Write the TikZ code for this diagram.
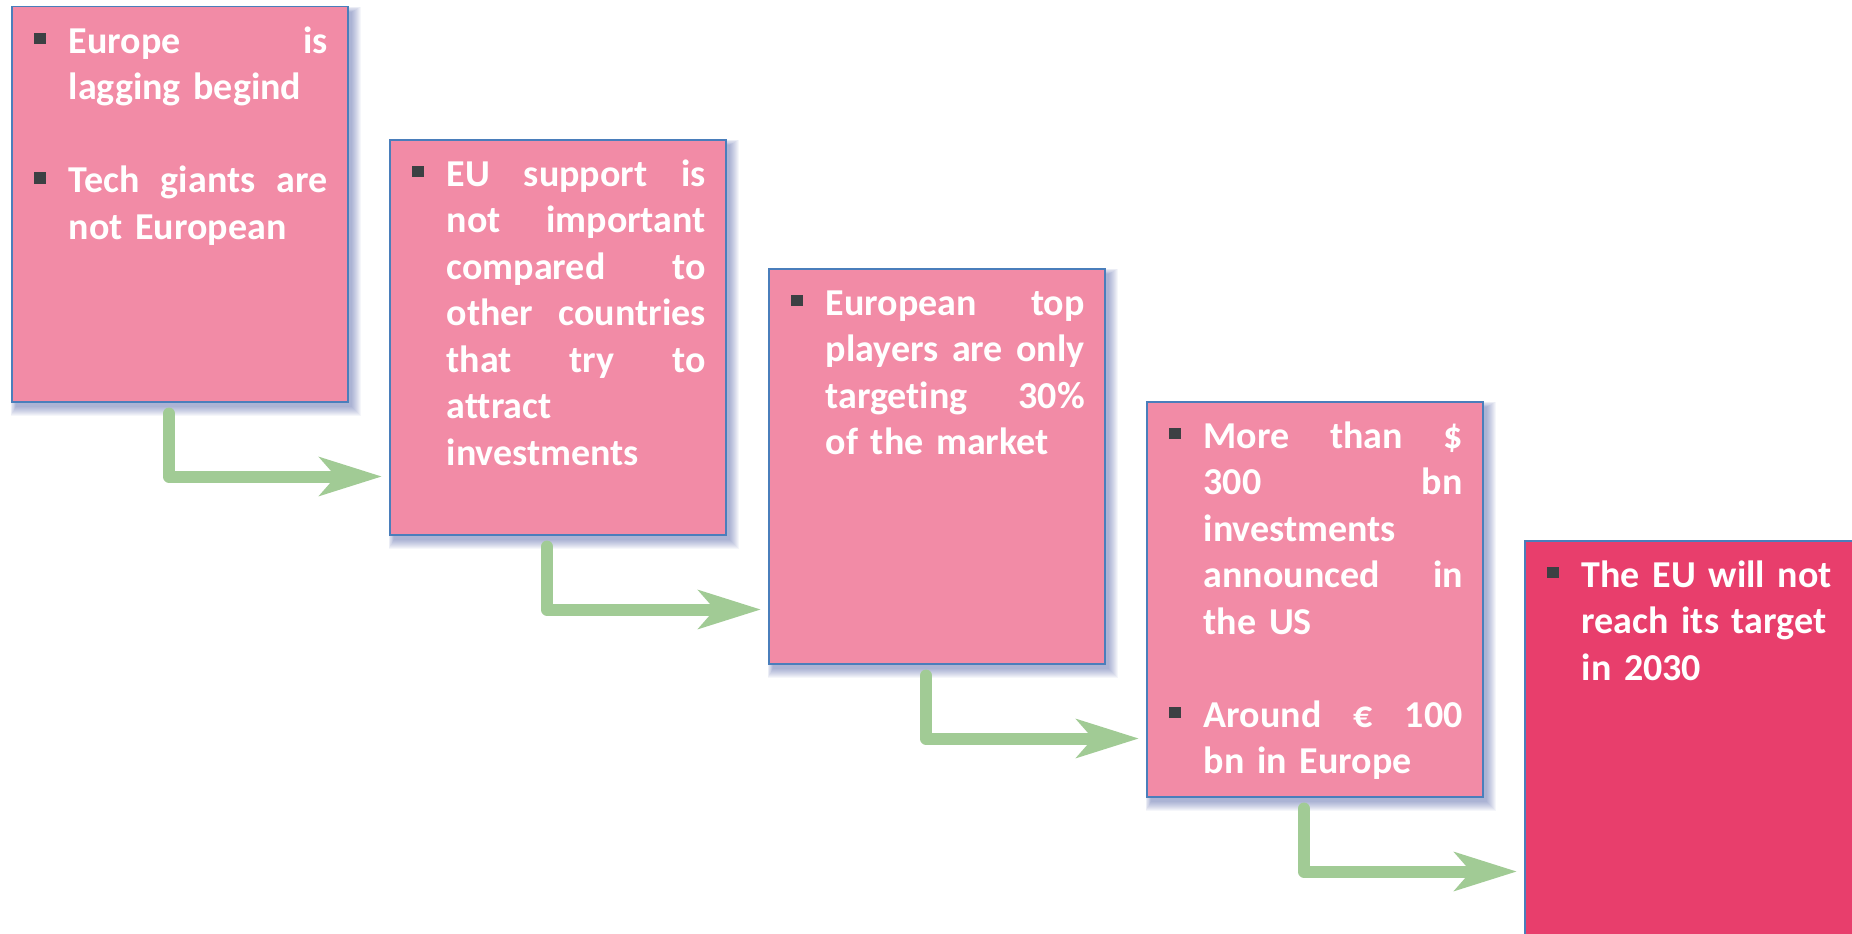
\documentclass[tikz,border=0pt]{standalone}
\usepackage{fontspec}
\setmainfont{Carlito}[RawFeature={-liga}]
\usetikzlibrary{arrows.meta,calc}
\definecolor{boxpink}{RGB}{242,139,166}
\definecolor{boxred}{RGB}{232,62,108}
\definecolor{boxborder}{RGB}{74,126,187}
\definecolor{bulletc}{RGB}{60,64,67}
\definecolor{arrowgreen}{RGB}{161,203,149}
\definecolor{shadowc}{RGB}{60,80,160}
\pgfdeclarelayer{bg}
\pgfsetlayers{bg,main}
\newcommand\bsq{\textcolor{bulletc}{\rule[9pt]{11.5pt}{11.5pt}}}
\newcommand\spreadbox[1]{\hbox to 259pt{\spaceskip=0.22em plus 1fil\relax #1}}
\newcommand\bline[1]{\rule{0pt}{32pt}\makebox[34.5pt][l]{\bsq}\spreadbox{#1}}
\newcommand\bfirst[1]{\rule{0pt}{32pt}\makebox[34.5pt][l]{\bsq}#1}
\newcommand\jline[1]{\hspace*{34.5pt}\spreadbox{#1}}
\newcommand\pline[1]{\hspace*{34.5pt}#1}
\tikzset{
  stepbox/.style={draw=boxborder, line width=1.5pt, fill=boxpink, anchor=north west,
    minimum width=336pt, minimum height=395pt, inner sep=0pt},
  lastbox/.style={stepbox, fill=boxred},
  txt/.style={anchor=north west, inner sep=0pt, text width=295pt, text=white,
    font=\fontsize{38}{46.5}\selectfont\bfseries},
  arr/.style={draw=arrowgreen, line width=12pt, line cap=round, line join=round,
    -{Stealth[length=62pt, width=38pt, inset=16pt]}}
}
\begin{document}
\begin{tikzpicture}[x=1pt,y=-1pt]
\useasboundingbox (0,0) rectangle (1852,934);
\node[stepbox] (b1) at (11,6) {};
\node[stepbox] (b2) at (389,139) {};
\node[stepbox] (b3) at (768,268) {};
\node[stepbox] (b4) at (1146,401) {};
\node[lastbox] (b5) at (1524,540) {};

\node[txt] (t1) at ($(b1.north west)+(23,15)$) {\noindent\bline{Europe is}\\
\pline{lagging begind}\\[46.5pt]
\bline{Tech giants are}\\
\pline{not European}};

\node[txt] (t2) at ($(b2.north west)+(23,15)$) {\noindent\bline{EU support is}\\
\jline{not important}\\
\jline{compared to}\\
\jline{other countries}\\
\jline{that try to}\\
\pline{attract}\\
\pline{investments}};

\node[txt] (t3) at ($(b3.north west)+(23,15)$) {\noindent\bline{European top}\\
\jline{players are only}\\
\jline{targeting 30\%}\\
\pline{of the market}};

\node[txt] (t4) at ($(b4.north west)+(23,15)$) {\noindent\bline{More than \$}\\
\jline{300 bn}\\
\pline{investments}\\
\jline{announced in}\\
\pline{the US}\\[46.5pt]
\bline{Around € 100}\\
\pline{bn in Europe}};

\node[txt] (t5) at ($(b5.north west)+(23,15)$) {\noindent\bfirst{The EU will not}\\
\pline{reach its target}\\
\pline{in 2030}};

\draw[arr] ($(b1.south west)+(158,11)$) |- ($(b2.west |- b1.south)+(-7,74)$);
\draw[arr] ($(b2.south west)+(158,11)$) |- ($(b3.west |- b2.south)+(-7,74)$);
\draw[arr] ($(b3.south west)+(158,11)$) |- ($(b4.west |- b3.south)+(-7,74)$);
\draw[arr] ($(b4.south west)+(158,11)$) |- ($(b5.west |- b4.south)+(-7,74)$);

\begin{pgfonlayer}{bg}
\fill[white] (0,0) rectangle (1852,934);
\foreach \b in {b1,b2,b3,b4,b5}{
  \foreach \i in {0,...,9}{
    \fill[shadowc, opacity=0.05] ($(\b.north west)+(5-0.6*\i,6-0.6*\i)$) rectangle ($(\b.south east)+(3+\i,4+\i)$);
  }
}
\end{pgfonlayer}
\end{tikzpicture}
\end{document}
